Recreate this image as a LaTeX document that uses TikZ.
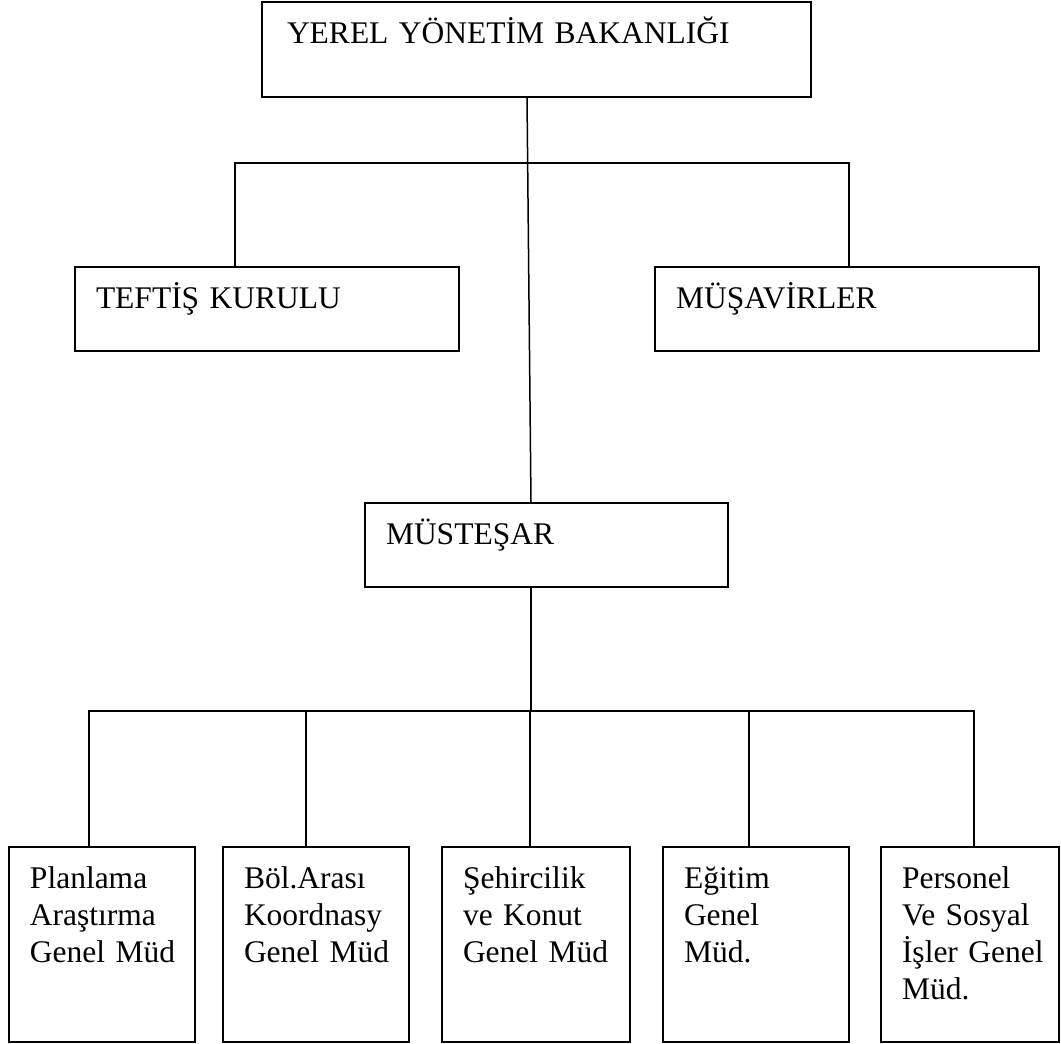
\documentclass[tikz,border=0pt]{standalone}
\usepackage{fontspec}
\setmainfont{Liberation Serif}
\usepackage{tikz}
\usetikzlibrary{positioning,calc}
\tikzset{
  unitbox/.style={draw, line width=1.5pt, anchor=north west, outer sep=0pt, inner ysep=0pt, inner xsep=21pt, align=left, text height=41pt},
  bus/.style={line width=1.5pt}
}

\begin{document}
\begin{tikzpicture}[x=1pt, y=-1pt, every node/.style={font=\fontsize{31.5}{37}\selectfont}]
                \useasboundingbox (0,0) rectangle (1061,1044);
                % ministry and first level
                \node[unitbox, inner xsep=25pt, text width=499pt, text depth=54pt] (bakanlik) at (262,2) {YEREL YÖNETİM BAKANLIĞI};
                \node[unitbox, text width=342pt, text depth=43pt] (teftis) at (75,267) {TEFTİŞ KURULU};
                \node[unitbox, text width=342pt, text depth=43pt] (musavir) at (655,267) {MÜŞAVİRLER};
                \node[unitbox, text width=321pt, text depth=43pt] (mustesar) at (365,503) {MÜSTEŞAR};
                % general directorates
                \node[unitbox, text width=144pt, text depth=154pt] (plan) at (9,847) {Planlama\\Araştırma\\Genel~Müd};
                \node[unitbox, text width=144pt, text depth=154pt] (bolge) at (223,847) {Böl.Arası\\Koordnasy\\Genel~Müd};
                \node[unitbox, text width=146pt, text depth=154pt] (sehir) at (442,847) {Şehircilik\\ve~Konut\\Genel~Müd};
                \node[unitbox, text width=144pt, text depth=154pt] (egitim) at (663,847) {Eğitim\\Genel\\Müd.};
                \node[unitbox, text width=136pt, text depth=154pt] (personel) at (881,847) {Personel\\Ve~Sosyal\\İşler~Genel\\Müd.};
                % connectors
                \coordinate (upbus) at (527,163);
                \coordinate (lowbus) at (531,711);
                \draw[bus] ([xshift=-9.5pt]bakanlik.south) -- ([xshift=-15.5pt]mustesar.north);
                \draw[bus] ([xshift=-32pt]teftis.north) |- (upbus) -| ([xshift=2pt]musavir.north);
                \draw[bus] ([xshift=-15.5pt]mustesar.south) -- (lowbus);
                \draw[bus] ([xshift=-13pt]plan.north) |- (lowbus) -| ([xshift=4pt]personel.north);
                \draw[bus] ([xshift=-10pt]bolge.north) -- ([xshift=-10pt]bolge.north |- lowbus);
                \draw[bus] ([xshift=-6pt]sehir.north) -- ([xshift=-6pt]sehir.north |- lowbus);
                \draw[bus] ([xshift=-7pt]egitim.north) -- ([xshift=-7pt]egitim.north |- lowbus);
            \end{tikzpicture}
\end{document}
